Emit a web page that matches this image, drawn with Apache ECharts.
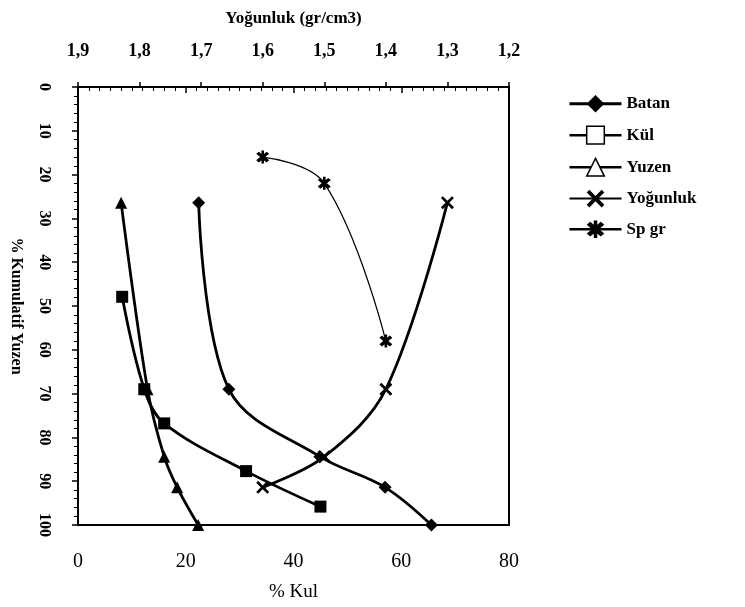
<!DOCTYPE html>
<html>
<head>
<meta charset="utf-8">
<script src="https://cdn.jsdelivr.net/npm/echarts@6/dist/echarts.min.js"></script>
<style>html,body{margin:0;padding:0;background:#fff}#c{width:745px;height:607px}</style>
</head>
<body>
<div id="c"></div>
<script>
// ---- data ----
const seriesNames = ['Batan', 'Kül', 'Yuzen', 'Yoğunluk', 'Sp gr'];
const batanKul = [22.4, 28.0, 44.9, 57.0, 65.6];
const batanCum = [26.4, 69.0, 84.4, 91.4, 100];
const kulKul = [8.2, 12.3, 16.0, 31.2, 45.0];
const kulCum = [47.9, 69.0, 76.8, 87.7, 95.8];
const yuzenKul = [8.0, 12.9, 16.0, 18.4, 22.3];
const yuzenCum = [26.4, 69.0, 84.4, 91.4, 100];
const yogDens = [1.3, 1.4, 1.5, 1.6];
const yogCum = [26.4, 69.0, 84.4, 91.4];
const spDens = [1.6, 1.5, 1.4];
const spCum = [16, 22, 58];

const pair = (xs, ys) => xs.map((x, i) => [x, ys[i]]);
const serif = '"Liberation Serif", "DejaVu Serif", serif';
const xSym = 'path://M0,1.5 L1.5,0 L5,3.5 L8.5,0 L10,1.5 L6.5,5 L10,8.5 L8.5,10 L5,6.5 L1.5,10 L0,8.5 L3.5,5 Z';
const starSym = 'path://M0,2 L2,0 L5,3 L8,0 L10,2 L7,5 L10,8 L8,10 L5,7 L2,10 L0,8 L3,5 Z M4,-1 L6,-1 L6,11 L4,11 Z';

const chart = echarts.init(document.getElementById('c'));
chart.setOption({
  animation: false,
  backgroundColor: '#fff',
  grid: { left: 75, right: 236, top: 87, bottom: 82, show: true, borderColor: '#000', borderWidth: 2, backgroundColor: 'transparent' },
  legend: {
    orient: 'vertical', left: 563, top: 90, itemWidth: 52, itemHeight: 22, itemGap: 13,
    textStyle: { fontFamily: serif, fontWeight: 'bold', fontSize: 17, color: '#000' },
    lineStyle: { width: 2.5 },
    data: [
      { name: 'Batan', lineStyle: { width: 3 } },
      { name: 'Kül', lineStyle: { width: 2.5 }, itemStyle: { color: '#fff', borderColor: '#000', borderWidth: 1.5 } },
      { name: 'Yuzen', lineStyle: { width: 2.5 }, itemStyle: { color: '#fff', borderColor: '#000', borderWidth: 1.5 } },
      { name: 'Yoğunluk', lineStyle: { width: 2 } },
      { name: 'Sp gr', lineStyle: { width: 2.5 } }
    ]
  },
  xAxis: [
    {
      type: 'value', position: 'bottom', min: 0, max: 80, interval: 20,
      name: '% Kul', nameLocation: 'middle', nameGap: 58,
      nameTextStyle: { fontFamily: serif, fontSize: 19, color: '#000' },
      axisLine: { lineStyle: { color: '#000', width: 2 } },
      axisTick: { show: true, inside: false, length: 6, lineStyle: { color: '#000', width: 1.5 } },
      minorTick: { show: true, splitNumber: 10, length: 4, lineStyle: { color: '#000' } },
      axisLabel: { fontFamily: serif, fontSize: 20, color: '#000', margin: 27 },
      splitLine: { show: false }
    },
    {
      type: 'value', position: 'top', min: 1.2, max: 1.9, interval: 0.1, inverse: true,
      name: 'Yoğunluk (gr/cm3)', nameLocation: 'middle', nameGap: 60,
      nameTextStyle: { fontFamily: serif, fontWeight: 'bold', fontSize: 17, color: '#000' },
      axisLine: { lineStyle: { color: '#000', width: 2 } },
      axisTick: { show: true, inside: false, length: 5, lineStyle: { color: '#000', width: 1.5 } },
      minorTick: { show: false },
      axisLabel: { fontFamily: serif, fontWeight: 'bold', fontSize: 18, color: '#000', margin: 27,
        formatter: v => v.toFixed(1).replace('.', ',') },
      splitLine: { show: false }
    }
  ],
  yAxis: [
    {
      type: 'value', min: 0, max: 100, interval: 10, inverse: true,
      name: '% Kumulatif Yuzen', nameLocation: 'middle', nameGap: 54, nameRotate: -90,
      nameTextStyle: { fontFamily: serif, fontWeight: 'bold', fontSize: 16, color: '#000' },
      axisLine: { lineStyle: { color: '#000', width: 2 } },
      axisTick: { show: true, inside: false, length: 6, lineStyle: { color: '#000', width: 1.5 } },
      minorTick: { show: true, splitNumber: 5, length: 4, lineStyle: { color: '#000' } },
      axisLabel: { fontFamily: serif, fontWeight: 'bold', fontSize: 16, color: '#000', margin: 26, rotate: -90 },
      splitLine: { show: false }
    }
  ],
  series: [
    { name: 'Batan', type: 'line', xAxisIndex: 0, data: pair(batanKul, batanCum), smooth: 0.35,
      symbol: 'diamond', symbolSize: 13, itemStyle: { color: '#000' }, lineStyle: { color: '#000', width: 2.8 } },
    { name: 'Kül', type: 'line', xAxisIndex: 0, data: pair(kulKul, kulCum), smooth: 0.35,
      symbol: 'rect', symbolSize: 12, itemStyle: { color: '#000' }, lineStyle: { color: '#000', width: 2.8 } },
    { name: 'Yuzen', type: 'line', xAxisIndex: 0, data: pair(yuzenKul, yuzenCum), smooth: 0.3,
      symbol: 'triangle', symbolSize: 12, itemStyle: { color: '#000' }, lineStyle: { color: '#000', width: 2.8 } },
    { name: 'Yoğunluk', type: 'line', xAxisIndex: 1, data: pair(yogDens, yogCum), smooth: 0.35,
      symbol: xSym, symbolSize: 13, itemStyle: { color: '#000' }, lineStyle: { color: '#000', width: 2.8 } },
    { name: 'Sp gr', type: 'line', xAxisIndex: 1, data: pair(spDens, spCum), smooth: 0.4,
      symbol: starSym, symbolSize: 13, itemStyle: { color: '#000' }, lineStyle: { color: '#000', width: 1.2 } }
  ]
});
</script>
</body>
</html>
